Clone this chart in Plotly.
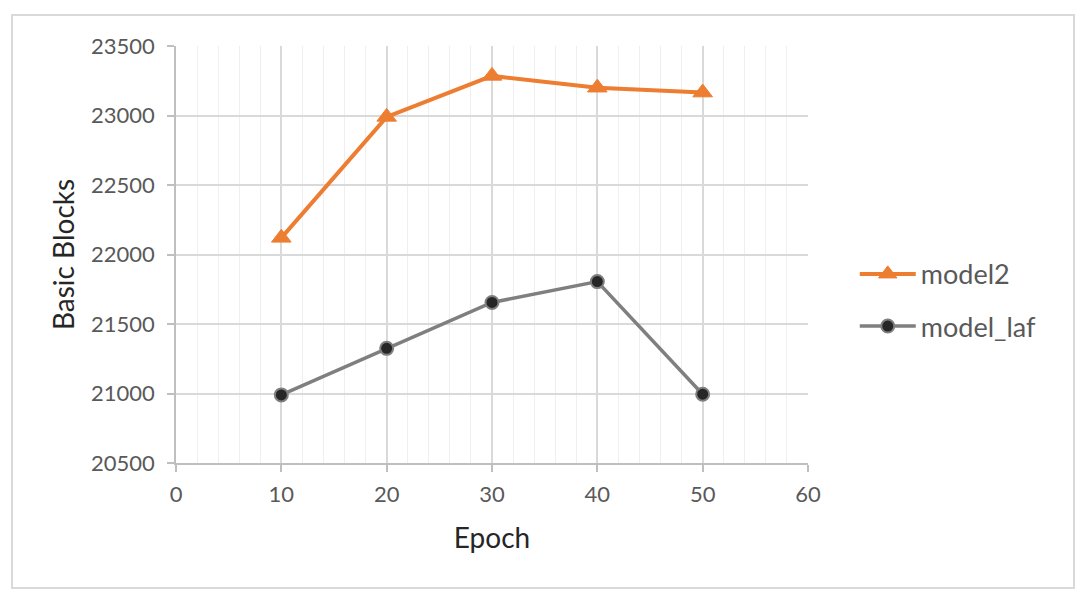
import plotly.graph_objects as go

epochs = [10, 20, 30, 40, 50]
model2 = [22120, 22990, 23285, 23200, 23165]
model_laf = [20990, 21325, 21655, 21805, 20995]

x_ticks = [0, 10, 20, 30, 40, 50, 60]
y_ticks = [20500, 21000, 21500, 22000, 22500, 23000, 23500]

FONT = "Lato"
TXT = "#595959"

fig = go.Figure()
fig.add_trace(go.Scatter(
    x=epochs, y=model2, name="model2", mode="lines+markers", legendgroup="a",
    line=dict(color="#ED7D31", width=4),
    marker=dict(symbol="triangle-up", size=17, color="#ED7D31",
                line=dict(color="#ED7D31", width=1)),
))
fig.add_trace(go.Scatter(
    x=epochs, y=model_laf, name="model_laf", mode="lines+markers", legendgroup="b",
    line=dict(color="#7F7F7F", width=3.5),
    marker=dict(symbol="circle", size=13, color="#262626",
                line=dict(color="#7F7F7F", width=2)),
))

fig.update_layout(
    width=1088, height=600,
    margin=dict(l=176, r=280, t=46, b=137),
    paper_bgcolor="white", plot_bgcolor="white",
    font=dict(family=FONT, size=22, color=TXT),
    showlegend=True,
    legend=dict(x=1.074, y=0.39, xanchor="left", yanchor="middle",
                font=dict(family=FONT, size=27, color=TXT),
                tracegroupgap=14, itemwidth=56, bgcolor="rgba(0,0,0,0)"),
    xaxis=dict(
        range=[0, 60], tickvals=x_ticks, ticktext=[str(v) for v in x_ticks],
        showgrid=True, gridcolor="#D9D9D9", gridwidth=1.5,
        minor=dict(dtick=2, showgrid=True, gridcolor="#EFEFEF", gridwidth=1),
        showline=True, linecolor="#BFBFBF", linewidth=1.5,
        ticks="outside", ticklen=7, tickcolor="#BFBFBF", tickwidth=1.5,
        ticklabelstandoff=4,
        zeroline=False,
        title=dict(text="Epoch", font=dict(family=FONT, size=28, color="#262626"), standoff=22),
        tickfont=dict(family=FONT, size=22, color=TXT),
    ),
    yaxis=dict(
        range=[20500, 23500], tickvals=y_ticks, ticktext=[str(v) for v in y_ticks],
        showgrid=True, gridcolor="#D9D9D9", gridwidth=1.5,
        showline=True, linecolor="#BFBFBF", linewidth=1.5,
        ticks="outside", ticklen=7, tickcolor="#BFBFBF", tickwidth=1.5,
        ticklabelstandoff=8,
        zeroline=False,
        title=dict(text="Basic Blocks", font=dict(family=FONT, size=28, color="#262626"), standoff=8),
        tickfont=dict(family=FONT, size=22, color=TXT),
    ),
    shapes=[dict(type="rect", xref="paper", yref="paper",
                 x0=-0.2595, x1=1.4209, y0=-0.2998, y1=1.0743,
                 line=dict(color="#D9D9D9", width=2), layer="below")],
)

fig.write_html("out.html")
